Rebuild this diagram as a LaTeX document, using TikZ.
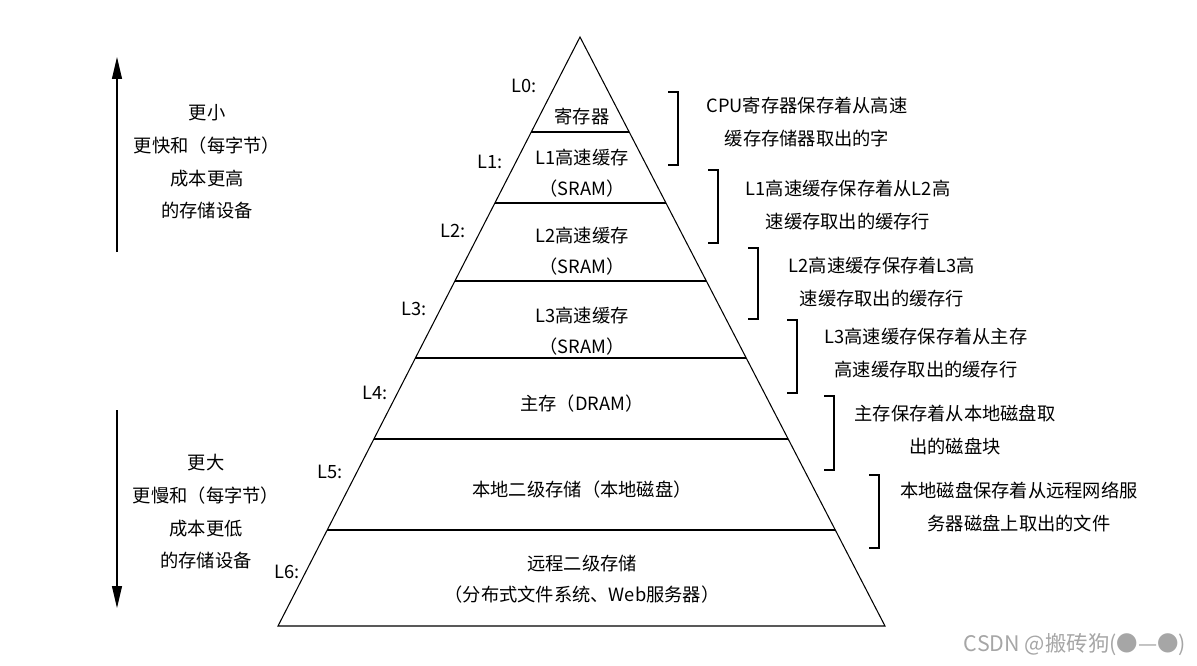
\documentclass[tikz,border=0pt]{standalone}
\usepackage{fontspec}
\setmainfont{Noto Sans CJK SC}
\usetikzlibrary{arrows.meta,calc}

\begin{document}
\begin{tikzpicture}[
            x=0.02cm, y=-0.02cm,
            layer/.style={
                    font=\fontsize{10.4}{17.8}\selectfont,
                    align=center,
                    inner sep=0pt
                },
            level/.style={
                    font=\fontsize{10.4}{12}\selectfont,
                    inner sep=0pt
                },
            note/.style={
                    font=\fontsize{10.4}{18.4}\selectfont,
                    align=center,
                    inner sep=0pt
                },
            bracket/.style={
                    draw=black,
                    line width=0.6pt
                },
            arrow/.style={
                    -{Triangle[length=0.44cm,width=0.2cm]},
                    line width=0.6pt
                }
            ]
            \useasboundingbox (0,0) rectangle (1197,666);

            % Pyramid
            \coordinate (apex) at (580,37);
            \coordinate (baseL) at (278,626);
            \coordinate (baseR) at (885,626);
            \draw[line width=0.6pt] (apex) -- (baseL) -- (baseR) -- cycle;
            \foreach \y [evaluate=\y as \t using (\y-37)/589] in {132,203,281,358,439,530}
            \draw[line width=0.6pt] ($(apex)!\t!(baseL)$) -- ($(apex)!\t!(baseR)$);

            % Layers
            \node[layer] (reg) at (582,117) {寄存器};
            \node[layer] (cacheA) at (582,173) {L1高速缓存\\（SRAM）};
            \node[layer] (cacheB) at (582,251) {L2高速缓存\\（SRAM）};
            \node[layer] (cacheC) at (582,331) {L3高速缓存\\（SRAM）};
            \node[layer] (mem) at (582,404) {主存（DRAM）};
            \node[layer] (disk) at (582,490) {本地二级存储（本地磁盘）};
            \node[layer] (remote) at (582,579) {远程二级存储\\（分布式文件系统、Web服务器）};

            % Level labels
            \node[level] (lvA) at (524,86) {L0:};
            \node[level] (lvB) at (490,162) {L1:};
            \node[level] (lvC) at (453,231) {L2:};
            \node[level] (lvD) at (414,309) {L3:};
            \node[level] (lvE) at (375,393) {L4:};
            \node[level] (lvF) at (330,472) {L5:};
            \node[level] (lvG) at (287,572) {L6:};

            % Brackets and notes
            \foreach \x/\ya/\yb in {678/92/165, 718/170/243, 758/248/319,
                    797/320/393, 834/396/470, 879/475/548}
            \draw[bracket] (\x-10,\ya) -- (\x,\ya) -- (\x,\yb) -- (\x-10,\yb);

            \node[note] (noteA) at (807,122) {CPU寄存器保存着从高速\\缓存存储器取出的字};
            \node[note] (noteB) at (848,205) {L1高速缓存保存着从L2高\\速缓存取出的缓存行};
            \node[note] (noteC) at (882,282) {L2高速缓存保存着L3高\\速缓存取出的缓存行};
            \node[note] (noteD) at (926,353) {L3高速缓存保存着从主存\\高速缓存取出的缓存行};
            \node[note] (noteE) at (955,430) {主存保存着从本地磁盘取\\出的磁盘块};
            \node[note] (noteF) at (1019,507) {本地磁盘保存着从远程网络服\\务器磁盘上取出的文件};

            % Left side
            \coordinate (upFrom) at (117,252);
            \coordinate (upTo) at (117,57);
            \coordinate (downFrom) at (117,410);
            \coordinate (downTo) at (117,608);
            \draw[arrow] (upFrom) -- (upTo);
            \draw[arrow] (downFrom) -- (downTo);
            \node[note, font=\fontsize{10.4}{18.6}\selectfont] (small) at (207,162)
            {更小\\更快和（每字节）\\成本更高\\的存储设备};
            \node[note, font=\fontsize{10.4}{18.6}\selectfont] (large) at (206,512)
            {更大\\更慢和（每字节）\\成本更低\\的存储设备};

            % Watermark
            \node[level, text=black!35, font=\fontsize{12.2}{14}\selectfont] (mark) at (1075,645)
            {CSDN @搬砖狗(●—●)};

        \end{tikzpicture}
\end{document}
